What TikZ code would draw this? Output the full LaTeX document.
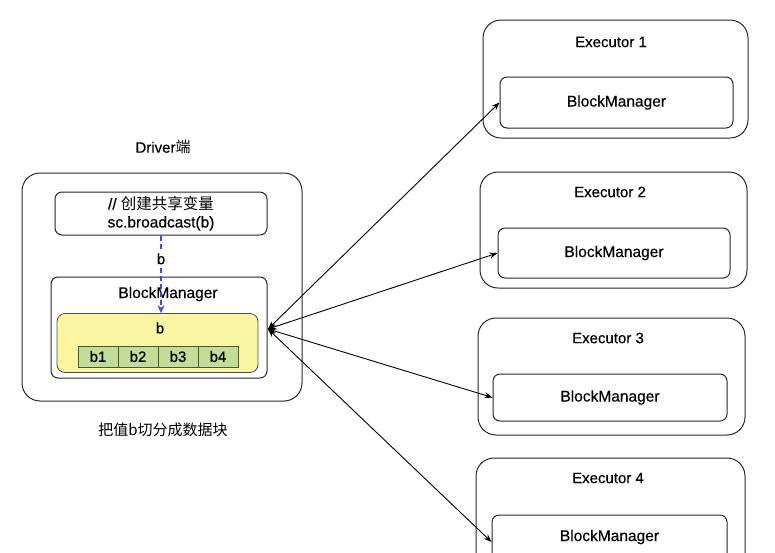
\documentclass[tikz,border=0pt]{standalone}
\usepackage{fontspec}
\setmainfont{Liberation Sans}[FakeBold=0.4]
\newfontfamily\cjk{Noto Sans CJK SC}
\usetikzlibrary{arrows.meta}
\definecolor{yel}{HTML}{FAF5A0}
\definecolor{grn}{HTML}{C3DC9A}
\definecolor{grnd}{HTML}{4A5A30}
\definecolor{arrblue}{HTML}{3A4AE6}
\begin{document}
\begin{tikzpicture}[x=1pt,y=-1pt,
  outerbox/.style={draw=black!85,line width=1pt,rounded corners=18pt,minimum width=#1,inner sep=0pt},
  innerbox/.style={draw=black!85,line width=1pt,rounded corners=7pt,inner sep=0pt},
  lbl/.style={font=\fontsize{15}{17}\selectfont,inner sep=0pt},
  bmt/.style={font=\fontsize{15.5}{17}\selectfont,inner sep=0pt},
  cell/.style={draw=grnd,fill=grn,line width=0.8pt,minimum width=40pt,minimum height=21pt,inner sep=0pt,font=\fontsize{15}{17}\selectfont},
  link/.style={draw=black,line width=0.9pt,{Stealth[length=8pt,width=6pt]}-{Stealth[length=8pt,width=6pt]}}
]
\useasboundingbox (0,0) rectangle (775,552);
% Driver
\node[lbl] (drvt) at (163,147) {Driver{\cjk 端}};
\node[outerbox=280pt,minimum height=228pt] (drv) at (162,287) {};
\node[innerbox,minimum width=212pt,minimum height=43pt,align=center,font=\fontsize{15.5}{18}\selectfont] (bc) at (161,213.5) {// {\cjk 创建共享变量}\\sc.broadcast(b)};
\node[innerbox,minimum width=216pt,minimum height=101pt] (dbm) at (159,327.5) {};
\node[bmt] (dbmt) at (168,294) {BlockManager};
\node[draw=black!70,fill=yel,line width=0.8pt,rounded corners=8pt,minimum width=201pt,minimum height=59pt,inner sep=0pt] (yb) at (157.5,343) {};
\node[lbl] (yt) at (160,328) {b};
\node[cell] (c1) at (98,356.5) {b1};
\node[cell] (c2) at (138,356.5) {b2};
\node[cell] (c3) at (178,356.5) {b3};
\node[cell] (c4) at (218,356.5) {b4};
\node[inner sep=0pt,font=\fontsize{15}{17}\selectfont\cjk] (cap) at (163,430) {把值b切分成数据块};
\draw[draw=arrblue,line width=1.1pt,dash pattern=on 5pt off 3pt,-{Stealth[length=8pt,width=7pt,fill=arrblue]}] (bc.south -| 161,0) -- node[pos=0.3,fill=white,inner sep=1.5pt,text=black,font=\fontsize{15}{17}\selectfont]{b} (yb.north -| 161,0);
\coordinate (hub) at (268,329);
% Executors
\node[outerbox=265pt,minimum height=118pt] (e1) at (615.5,79) {};
\node[lbl] (e1t) at (611,42) {Executor 1};
\node[innerbox,minimum width=233pt,minimum height=51pt] (bm1) at (616.5,102.5) {};
\node[bmt] at (bm1) {BlockManager};

\node[outerbox=267pt,minimum height=116pt] (e2) at (613.5,230) {};
\node[lbl] (e2t) at (610,192) {Executor 2};
\node[innerbox,minimum width=232pt,minimum height=50pt] (bm2) at (614,253) {};
\node[bmt] at (bm2) {BlockManager};

\node[outerbox=267pt,minimum height=117pt] (e3) at (611.5,376.5) {};
\node[lbl] (e3t) at (608,338) {Executor 3};
\node[innerbox,minimum width=234pt,minimum height=47pt] (bm3) at (610,397.5) {};
\node[bmt] at (bm3) {BlockManager};

\node[outerbox=269pt,minimum height=117pt] (e4) at (610.5,516.5) {};
\node[lbl] (e4t) at (608,478) {Executor 4};
\node[innerbox,minimum width=235pt,minimum height=50pt] (bm4) at (609.5,540) {};
\node[bmt] at (609.5,537) {BlockManager};
% links
\draw[link] (hub) -- (bm1.west);
\draw[link] (hub) -- (bm2.west);
\draw[link] (hub) -- (bm3.west);
\draw[link] (hub) -- ([yshift=-2pt]bm4.west);
\end{tikzpicture}
\end{document}
